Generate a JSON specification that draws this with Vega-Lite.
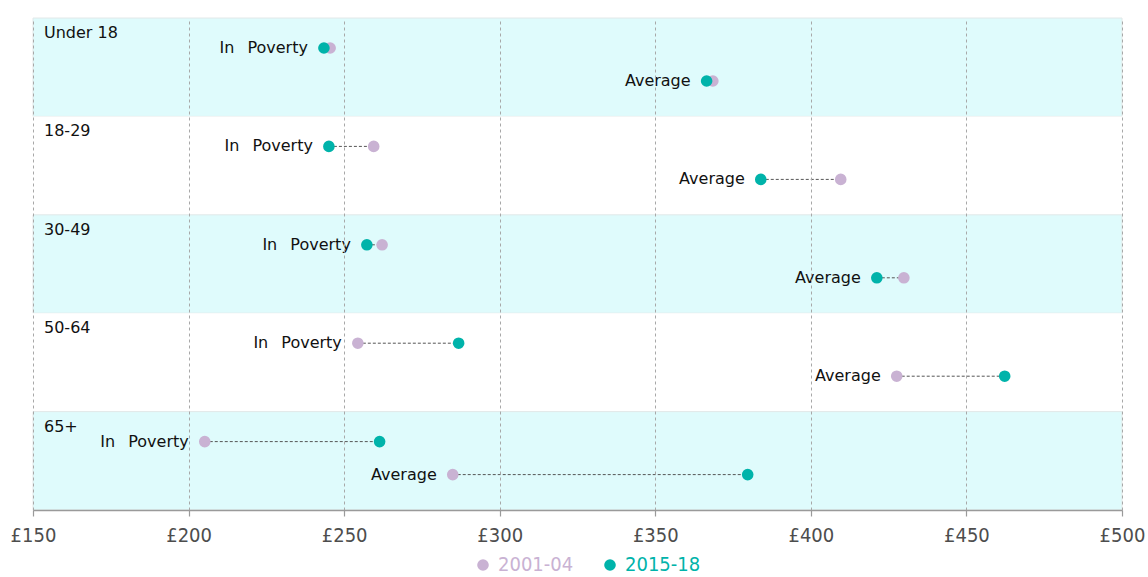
{
  "$schema": "https://vega.github.io/schema/vega-lite/v6.json",
  "width": 1089,
  "height": 492,
  "autosize": {"type": "none"},
  "padding": {"left": 33, "top": 18, "right": 26, "bottom": 67},
  "background": "white",
  "config": {"view": {"stroke": null}},
  "datasets": {
    "points": [
      {"group": "Under 18", "measure": "In\u2002\u00a0Poverty", "period": "2001-04", "value": 245.5},
      {"group": "Under 18", "measure": "Average", "period": "2001-04", "value": 368.5},
      {"group": "18-29", "measure": "In\u2002\u00a0Poverty", "period": "2001-04", "value": 259.5},
      {"group": "18-29", "measure": "Average", "period": "2001-04", "value": 409.6},
      {"group": "30-49", "measure": "In\u2002\u00a0Poverty", "period": "2001-04", "value": 262.2},
      {"group": "30-49", "measure": "Average", "period": "2001-04", "value": 429.9},
      {"group": "50-64", "measure": "In\u2002\u00a0Poverty", "period": "2001-04", "value": 254.4},
      {"group": "50-64", "measure": "Average", "period": "2001-04", "value": 427.6},
      {"group": "65+", "measure": "In\u2002\u00a0Poverty", "period": "2001-04", "value": 205.2},
      {"group": "65+", "measure": "Average", "period": "2001-04", "value": 284.9},
      {"group": "Under 18", "measure": "In\u2002\u00a0Poverty", "period": "2015-18", "value": 243.5},
      {"group": "Under 18", "measure": "Average", "period": "2015-18", "value": 366.5},
      {"group": "18-29", "measure": "In\u2002\u00a0Poverty", "period": "2015-18", "value": 245.1},
      {"group": "18-29", "measure": "Average", "period": "2015-18", "value": 383.9},
      {"group": "30-49", "measure": "In\u2002\u00a0Poverty", "period": "2015-18", "value": 257.3},
      {"group": "30-49", "measure": "Average", "period": "2015-18", "value": 421.2},
      {"group": "50-64", "measure": "In\u2002\u00a0Poverty", "period": "2015-18", "value": 286.8},
      {"group": "50-64", "measure": "Average", "period": "2015-18", "value": 462.3},
      {"group": "65+", "measure": "In\u2002\u00a0Poverty", "period": "2015-18", "value": 261.4},
      {"group": "65+", "measure": "Average", "period": "2015-18", "value": 379.7}
    ],
    "groups": [
      {"group": "Under 18"},
      {"group": "18-29"},
      {"group": "30-49"},
      {"group": "50-64"},
      {"group": "65+"}
    ]
  },
  "encoding": {
    "y": {
      "field": "group",
      "type": "nominal",
      "scale": {"type": "band", "domain": ["Under 18", "18-29", "30-49", "50-64", "65+"], "paddingInner": 0, "paddingOuter": 0},
      "axis": null
    }
  },
  "layer": [
    {
      "data": {"name": "groups"},
      "mark": {"type": "rect", "strokeWidth": 1, "height": {"expr": "height / 5"}},
      "encoding": {
        "x": {
          "datum": 150,
          "type": "quantitative",
          "scale": {"domain": [150, 500], "nice": false, "zero": false},
          "axis": {
            "values": [150, 200, 250, 300, 350, 400, 450, 500],
            "labelExpr": "'£' + datum.value",
            "title": null,
            "zindex": 1,
            "grid": true,
            "gridColor": "#a8a8a8",
            "gridDash": [3, 3],
            "gridWidth": 1,
            "domainColor": "#9a9a9a",
            "domainWidth": 1.5,
            "tickColor": "#9a9a9a",
            "tickSize": 6,
            "tickWidth": 1.2,
            "labelFont": "Liberation Sans Narrow, DejaVu Sans Condensed, sans-serif",
            "labelFontSize": 20,
            "labelColor": "#4d4d4d",
            "labelPadding": 9,
            "labelFlush": false
          }
        },
        "x2": {"datum": 500},
        "fill": {
          "condition": {"test": "indexof(['Under 18','30-49','65+'], datum.group) >= 0", "value": "#dffbfc"},
          "value": "white"
        },
        "stroke": {
          "condition": {"test": "indexof(['Under 18','30-49','65+'], datum.group) >= 0", "value": "#e2e8e8"},
          "value": "transparent"
        }
      }
    },
    {
      "data": {"name": "points"},
      "mark": {"type": "rule", "color": "#555555", "strokeDash": [3, 2], "strokeWidth": 1},
      "encoding": {
        "x": {"aggregate": "min", "field": "value", "type": "quantitative"},
        "x2": {"aggregate": "max", "field": "value"},
        "yOffset": {
          "field": "measure",
          "type": "nominal",
          "scale": {"type": "point", "padding": 0, "domain": ["In\u2002\u00a0Poverty", "Average"], "range": [30, 63]}
        }
      }
    },
    {
      "data": {"name": "points"},
      "mark": {"type": "circle", "size": 135, "opacity": 1},
      "encoding": {
        "x": {"field": "value", "type": "quantitative"},
        "yOffset": {"field": "measure", "type": "nominal"},
        "color": {
          "field": "period",
          "type": "nominal",
          "scale": {"domain": ["2001-04", "2015-18"], "range": ["#c9b2d3", "#00b3aa"]},
          "legend": {
            "title": null,
            "orient": "none",
            "direction": "horizontal",
            "legendX": 440,
            "legendY": 537,
            "padding": 0,
            "symbolType": "circle",
            "symbolSize": 135,
            "symbolStrokeWidth": 0,
            "symbolOpacity": 1,
            "labelFont": "Liberation Sans Narrow, DejaVu Sans Condensed, sans-serif",
            "labelFontSize": 20,
            "labelOffset": 5,
            "columnPadding": 26,
            "encode": {
              "labels": {"update": {"fill": {"scale": "color", "field": "label"}}}
            }
          }
        }
      }
    },
    {
      "data": {"name": "points"},
      "mark": {"type": "text", "align": "right", "baseline": "middle", "dx": -16, "font": "DejaVu Sans", "fontSize": 16, "color": "#111111"},
      "encoding": {
        "x": {"aggregate": "min", "field": "value", "type": "quantitative"},
        "yOffset": {"field": "measure", "type": "nominal"},
        "text": {"field": "measure", "type": "nominal"}
      }
    },
    {
      "data": {"name": "groups"},
      "mark": {"type": "text", "align": "left", "baseline": "middle", "dx": 11, "dy": 15, "font": "DejaVu Sans", "fontSize": 16, "color": "#111111"},
      "encoding": {
        "x": {"datum": 150, "type": "quantitative"},
        "y": {"field": "group", "type": "nominal", "bandPosition": 0},
        "text": {"field": "group", "type": "nominal"}
      }
    }
  ]
}
